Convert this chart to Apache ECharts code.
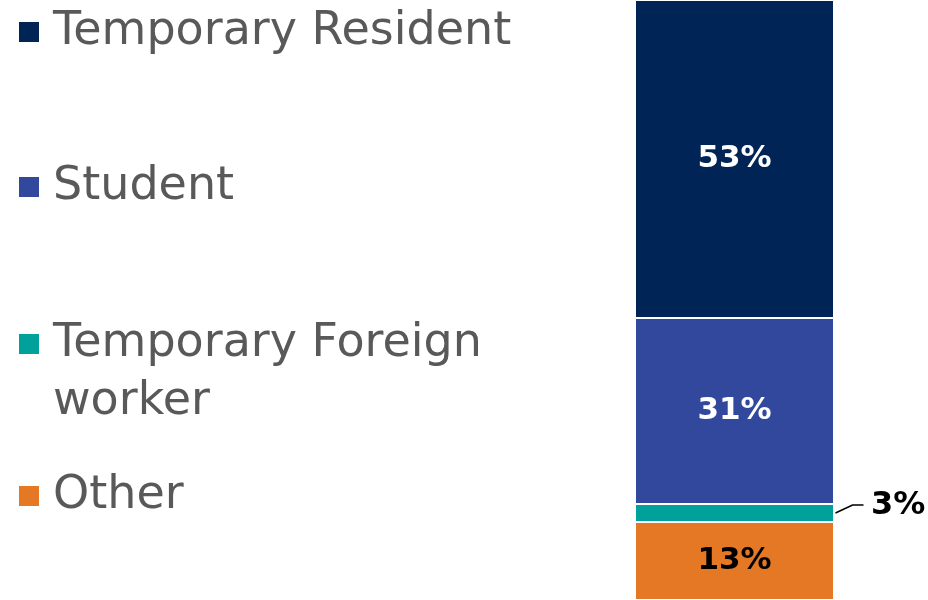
<!DOCTYPE html>
<html>
<head>
<meta charset="utf-8">
<script src="https://cdn.jsdelivr.net/npm/echarts@6/dist/echarts.min.js"></script>
<style>
  html, body { margin: 0; padding: 0; background: #fff; }
  #chart { width: 928px; height: 600px; }
</style>
</head>
<body>
<div id="chart"></div>
<script>
// data
var categories = ["Status"];
var seriesNames = ["Temporary Resident", "Student", "Temporary Foreign worker", "Other"];
var seriesValues = [53, 31, 3, 13];
var seriesColors = ["#002456", "#31489C", "#00A09B", "#E57825"];

var FONT = "'Century Gothic', 'DejaVu Sans', sans-serif";
var myChart = echarts.init(document.getElementById("chart"));

// legend tops so each icon sits on the first text line
var legendTops = [3, 158, 257, 467];

var legends = seriesNames.map(function (name, i) {
    return {
        data: [name],
        left: 17,
        top: legendTops[i],
        padding: 0,
        icon: "rect",
        itemWidth: 22,
        itemHeight: 22,
        selectedMode: false,
        formatter: function (n) {
            // empty first line keeps the icon level with "Temporary Foreign"
            return n === "Temporary Foreign worker" ? "\nTemporary Foreign\nworker" : n;
        },
        textStyle: {
            fontFamily: FONT,
            fontSize: 46,
            color: "#595959",
            lineHeight: 58,
            padding: [0, 0, 0, 8]
        }
    };
});

// stack bottom-up: Other, TFW, Student, TR
var order = [3, 2, 1, 0];
var series = order.map(function (i) {
    var s = {
        name: seriesNames[i],
        type: "bar",
        stack: "total",
        barWidth: "100%",
        data: [seriesValues[i]],
        itemStyle: { color: seriesColors[i], borderColor: "#fff", borderWidth: 1 },
        label: {
            show: true,
            position: "inside",
            formatter: "{c}%",
            fontFamily: FONT,
            fontWeight: "bold",
            fontSize: 31,
            color: i < 2 ? "#fff" : "#000"
        }
    };
    if (i === 2) {
        s.label.position = "right";
        s.label.fontSize = 32;
        s.labelLayout = { dx: 32, dy: -7 };
    }
    return s;
});

var option = {
    animation: false,
    legend: legends,
    grid: { left: 635, right: 94, top: 0, bottom: 0 },
    xAxis: { type: "category", data: categories, show: false },
    yAxis: { type: "value", min: 0, max: 100, show: false },
    series: series
};
myChart.setOption(option);

// leader line for the small 3% segment, placed from the axes
var midVal = seriesValues[3] + seriesValues[2] / 2;
var c = myChart.convertToPixel({ gridIndex: 0 }, [categories[0], midVal]);
var xr = myChart.convertToPixel({ gridIndex: 0 }, [categories[0], 0])[0] + 99;
myChart.setOption({
    graphic: [{
        type: "polyline",
        shape: { points: [[xr + 2, c[1]], [xr + 19, c[1] - 8], [xr + 30, c[1] - 8]] },
        style: { stroke: "#000", lineWidth: 1.6, fill: null },
        silent: true
    }]
});
</script>
</body>
</html>
